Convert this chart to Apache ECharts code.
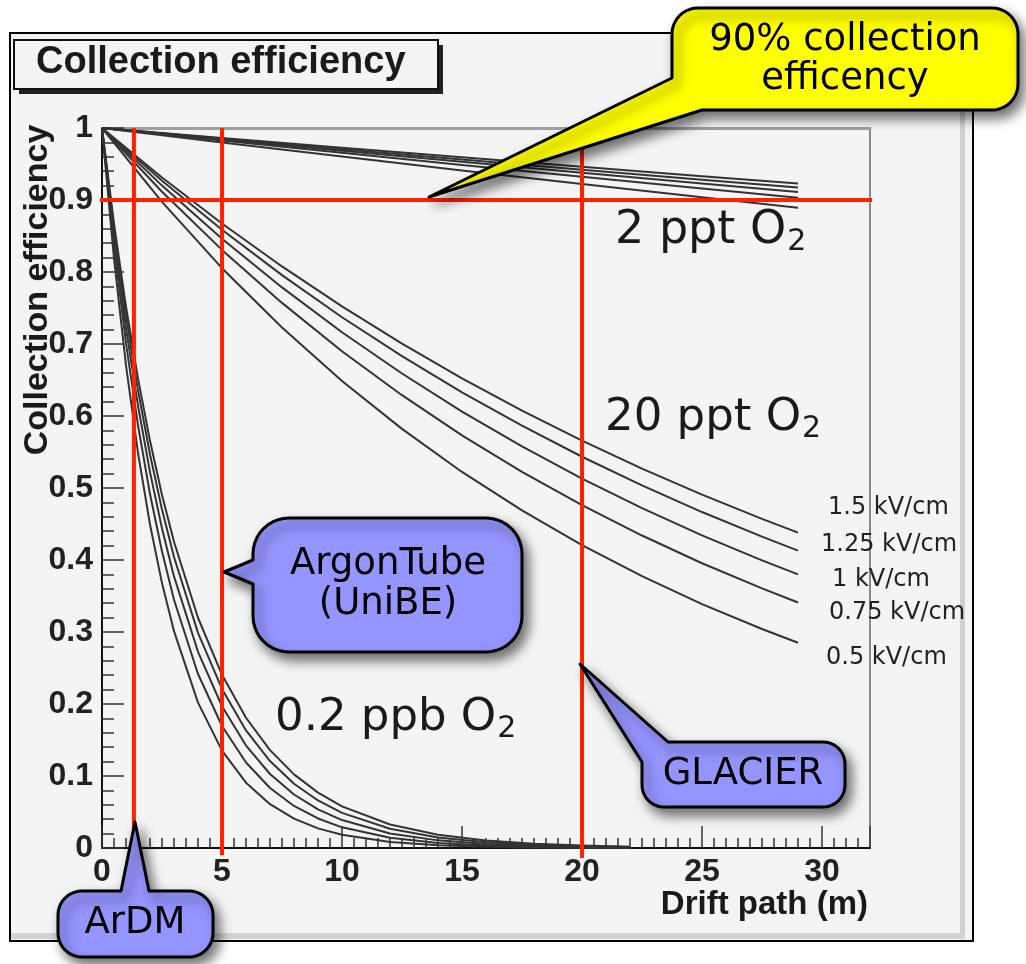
<!DOCTYPE html>
<html><head><meta charset="utf-8">
<script src="https://cdn.jsdelivr.net/npm/echarts@6/dist/echarts.min.js"></script>
<style>html,body{margin:0;padding:0;background:#fff}#c{width:1026px;height:964px}</style>
</head><body><div id="c"></div><script>
// ---------------- data ----------------
const fields = ['1.5 kV/cm','1.25 kV/cm','1 kV/cm','0.75 kV/cm','0.5 kV/cm'];
const groups = ['2 ppt O', '20 ppt O', '0.2 ppb O'];
const xTickLabels = [0,5,10,15,20,25,30];
const yTickLabels = ['0','0.1','0.2','0.3','0.4','0.5','0.6','0.7','0.8','0.9','1'];

const pathLen2ppt = [0,5,10,15,20,25,29];
const eff2ppt = [
 [1,0.9862,0.9727,0.9593,0.9461,0.9331,0.9228],
 [1,0.9852,0.9706,0.9563,0.9421,0.9282,0.9172],
 [1,0.9841,0.9684,0.9530,0.9378,0.9229,0.9111],
 [1,0.9826,0.9655,0.9487,0.9322,0.9160,0.9032],
 [1,0.9800,0.9603,0.9411,0.9222,0.9037,0.8892]
];
const pathLen20ppt = [0,2.5,5,7.5,10,12.5,15,17.5,20,22.5,25,27.5,29];
const eff20ppt = [
 [1,0.9313,0.8673,0.8077,0.7522,0.7005,0.6524,0.6076,0.5659,0.5270,0.4908,0.4571,0.4380],
 [1,0.9266,0.8586,0.7956,0.7372,0.6831,0.6329,0.5865,0.5434,0.5036,0.4666,0.4324,0.4131],
 [1,0.9200,0.8463,0.7786,0.7163,0.6590,0.6062,0.5577,0.5131,0.4720,0.4342,0.3994,0.3800],
 [1,0.9114,0.8307,0.7571,0.6900,0.6289,0.5732,0.5224,0.4762,0.4340,0.3955,0.3605,0.3410],
 [1,0.8974,0.8053,0.7228,0.6486,0.5821,0.5223,0.4688,0.4207,0.3776,0.3388,0.3041,0.2850]
];
const pathLen02ppb = [0,0.5,1,1.5,2,2.5,3,4,5,6,7,8,9,10,12,14,16,18,20,22];
const eff02ppb = [
 [1,0.8672,0.7520,0.6522,0.5655,0.4904,0.4253,0.3198,0.2405,0.1809,0.1360,0.1023,0.0769,0.0578,0.0327,0.0185,0.0105,0.0059,0.0033,0.0019],
 [1,0.8598,0.7393,0.6357,0.5466,0.4700,0.4041,0.2988,0.2209,0.1633,0.1207,0.0893,0.0660,0.0488,0.0267,0.0146,0.0080,0.0044,0.0024,0.0013],
 [1,0.8500,0.7225,0.6142,0.5220,0.4437,0.3772,0.2725,0.1969,0.1423,0.1028,0.0743,0.0537,0.0388,0.0202,0.0106,0.0055,0.0029,0.0015,0.0008],
 [1,0.8374,0.7012,0.5871,0.4916,0.4117,0.3447,0.2417,0.1695,0.1188,0.0833,0.0584,0.0410,0.0287,0.0141,0.0069,0.0034,0.0017,0.0008,0.0004],
 [1,0.8187,0.6703,0.5488,0.4493,0.3679,0.3012,0.2019,0.1353,0.0907,0.0608,0.0408,0.0273,0.0183,0.0082,0.0037,0.0017,0.0007,0.0003,0.0002]
];
// reference markers
const detectorNames = ['ArDM','ArgonTube (UniBE)','GLACIER'];
const detectorX = [1.33, 5, 20];
const detectorTop = [1, 1, 0.976];
const detectorBottom = [0, -0.01, -0.014];
const thresholdY = 0.9;
const thresholdSpan = [-0.2, 32.1];

// ---------------- chart ----------------
const chart = echarts.init(document.getElementById('c'), null, {renderer:'canvas'});
const CURVE = '#333';
const RED = '#ff2200';
const series = [];
function addGroup(xs, rows, g){
  rows.forEach((ys, i) => series.push({
    type:'line', name: g + ' ' + fields[i], xAxisIndex:0, yAxisIndex:0,
    data: xs.map((x, j) => [x, ys[j]]),
    symbol:'none', showSymbol:false, smooth:false,
    lineStyle:{color:CURVE, width:2, join:'round'}, silent:true, z:3, animation:false
  }));
}
addGroup(pathLen2ppt, eff2ppt, groups[0]);
addGroup(pathLen20ppt, eff20ppt, groups[1]);
addGroup(pathLen02ppb, eff02ppb, groups[2]);
detectorX.forEach((x, i) => series.push({
  type:'line', name: detectorNames[i], data:[[x, detectorBottom[i]], [x, detectorTop[i]]],
  symbol:'none', clip:false, lineStyle:{color:RED, width:4}, silent:true, z:4, animation:false
}));
series.push({
  type:'line', name:'90%', data:[[thresholdSpan[0], thresholdY],[thresholdSpan[1], thresholdY]],
  symbol:'none', clip:false, lineStyle:{color:RED, width:4}, silent:true, z:4, animation:false
});

const LBL = {fontFamily:'Liberation Sans', fontWeight:'bold', fontSize:32, color:'#222'};
const mctx = document.createElement('canvas').getContext('2d');
function tw(t, font){ mctx.font = font; return mctx.measureText(t).width; }

const G = [];
// white page margins around the ROOT canvas
G.push({type:'rect', shape:{x:0,y:0,width:1026,height:32}, style:{fill:'#fff'}, z:1, silent:true});
G.push({type:'rect', shape:{x:974,y:0,width:52,height:964}, style:{fill:'#fff'}, z:1, silent:true});
G.push({type:'rect', shape:{x:0,y:942,width:1026,height:22}, style:{fill:'#fff'}, z:1, silent:true});
G.push({type:'rect', shape:{x:0,y:0,width:9,height:964}, style:{fill:'#fff'}, z:1, silent:true});
G.push({type:'rect', shape:{x:960,y:34,width:5,height:900}, style:{fill:'#cfcfcf'}, z:1, silent:true});
G.push({type:'rect', shape:{x:11,y:933,width:954,height:6}, style:{fill:'#d4d4d4'}, z:1, silent:true});
G.push({type:'rect', shape:{x:10,y:33,width:963,height:908}, style:{fill:'none', stroke:'#000', lineWidth:2}, z:2, silent:true});
// title box
G.push({type:'rect', shape:{x:19,y:45,width:424,height:49}, style:{fill:'#222'}, z:2, silent:true});
G.push({type:'rect', shape:{x:14,y:40,width:424,height:49}, style:{fill:'#f4f4f4', stroke:'#111', lineWidth:2}, z:3, silent:true});
G.push({type:'text', x:36, y:63, style:{text:'Collection efficiency', font:'bold 38px "Liberation Sans"', fill:'#1a1a1a', textAlign:'left', textVerticalAlign:'middle'}, z:4, silent:true});
// axis titles
G.push({type:'text', x:38, y:290, rotation:Math.PI/2, style:{text:'Collection efficiency', font:'bold 34px "Liberation Sans"', fill:'#1a1a1a', textAlign:'center', textVerticalAlign:'middle'}, z:4, silent:true});
G.push({type:'text', x:868, y:905, style:{text:'Drift path (m)', font:'bold 33px "Liberation Sans"', fill:'#1a1a1a', textAlign:'right', textVerticalAlign:'middle'}, z:4, silent:true});
// field labels
const fieldPos = [[828,508],[821,545],[832,580],[829,613],[826,658]];
fields.forEach((f, i) => G.push({type:'text', x:fieldPos[i][0], y:fieldPos[i][1], style:{text:f, font:'24px "DejaVu Sans"', fill:'#222', textAlign:'left', textVerticalAlign:'middle'}, z:5, silent:true}));
// concentration labels with subscript
const groupPos = [[615,231,46],[605,418,45],[275,718,45]];
groups.forEach((g, i) => {
  const [x, y, s] = groupPos[i];
  const font = s + 'px "DejaVu Sans"';
  G.push({type:'text', x, y, style:{text:g, font, fill:'#1a1a1a', textAlign:'left', textVerticalAlign:'middle'}, z:5, silent:true});
  G.push({type:'text', x: x + tw(g, font) + 1, y: y + 11, style:{text:'2', font:'30px "DejaVu Sans"', fill:'#1a1a1a', textAlign:'left', textVerticalAlign:'middle'}, z:5, silent:true});
});
// callout outlines (rounded boxes with pointer), as polygons
function corner(cx, cy, r, a0, a1){
  const pts = [];
  for (let k = 0; k <= 10; k++){ const a = (a0 + (a1 - a0) * k / 10) * Math.PI / 180; pts.push([cx + r * Math.cos(a), cy + r * Math.sin(a)]); }
  return pts;
}
const SH = {shadowBlur:12, shadowColor:'rgba(0,0,0,0.55)', shadowOffsetX:5, shadowOffsetY:7};
function callout(points, fill, lines, cx, ys){
  G.push({type:'polygon', shape:{points}, style:Object.assign({fill, stroke:'#000', lineWidth:3, lineJoin:'round'}, SH), z:20, silent:true});
  lines.forEach((t, i) => G.push({type:'text', x:cx, y:ys[i], style:{text:t, font:'37px "DejaVu Sans"', fill:'#000', textAlign:'center', textVerticalAlign:'middle'}, z:21, silent:true}));
}
callout([].concat(
  corner(992,34,26,-90,0), corner(992,84,26,0,90),
  [[702,110],[429,197],[672,78]], corner(698,34,26,180,270)),
  '#ffff00', ['90% collection','efficency'], 845, [40, 79]);
callout([].concat(
  corner(289,554,36,180,270), corner(486,554,36,270,360), corner(486,616,36,0,90), corner(289,616,36,90,180),
  [[253,584],[224,572],[253,560]]),
  '#9595ff', ['ArgonTube','(UniBE)'], 388, [564, 604]);
callout([].concat(
  [[668,742]], corner(823,764,22,-90,0), corner(823,785,22,0,90), corner(664,785,22,90,180),
  [[642,762],[580,664]]),
  '#9595ff', ['GLACIER'], 743, [774]);
callout([].concat(
  [[121,891],[135,822],[149,891]], corner(189,915,24,-90,0), corner(189,933,24,0,90), corner(82,933,24,90,180), corner(82,915,24,180,270)),
  '#9595ff', ['ArDM'], 135, [923]);

const option = {
  animation:false,
  backgroundColor:'#f4f4f4',
  grid:{left:102, top:128, width:768, height:720, show:false},
  xAxis:[
    {type:'value', min:0, max:32, interval:5, position:'bottom',
     axisLine:{show:true, onZero:false, lineStyle:{color:'#111', width:2}},
     axisTick:{show:true, inside:true, length:22, lineStyle:{color:'#333', width:1.5}},
     axisLabel:{show:true, margin:8, ...LBL, formatter:v => (xTickLabels.indexOf(Math.round(v)) >= 0 && Math.abs(v - Math.round(v)) < 1e-6) ? String(Math.round(v)) : ''},
     splitLine:{show:false}},
    {type:'value', min:0, max:32, interval:0.5, position:'bottom',
     axisLine:{show:false}, axisTick:{show:true, inside:true, length:10, lineStyle:{color:'#333', width:1.5}},
     axisLabel:{show:false}, splitLine:{show:false}},
    {type:'value', min:0, max:32, position:'top',
     axisLine:{show:true, onZero:false, lineStyle:{color:'#a0a0a0', width:3}},
     axisTick:{show:false}, axisLabel:{show:false}, splitLine:{show:false}}
  ],
  yAxis:[
    {type:'value', min:0, max:1, interval:0.1, position:'left',
     axisLine:{show:true, onZero:false, lineStyle:{color:'#111', width:2}},
     axisTick:{show:true, inside:true, length:22, lineStyle:{color:'#333', width:1.5}},
     minorTick:{show:true, splitNumber:5, length:12, lineStyle:{color:'#333', width:1.5}},
     axisLabel:{show:true, margin:9, ...LBL, formatter:v => { const i = Math.round(v*10); return yTickLabels[i] !== undefined ? yTickLabels[i] : ''; }},
     splitLine:{show:false}, minorSplitLine:{show:false}},
    {type:'value', min:0, max:1, position:'right',
     axisLine:{show:true, onZero:false, lineStyle:{color:'#666', width:1.5}},
     axisTick:{show:false}, axisLabel:{show:false}, splitLine:{show:false}}
  ],
  series,
  graphic:{elements:G}
};
chart.setOption(option);
</script></body></html>
